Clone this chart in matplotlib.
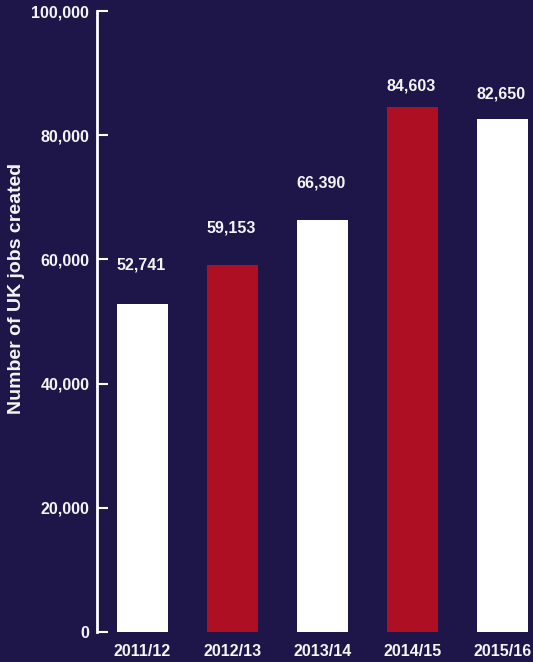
import matplotlib
matplotlib.use("Agg")
import matplotlib.pyplot as plt

categories = ["2011/12", "2012/13", "2013/14", "2014/15", "2015/16"]
jobs = [52741, 59153, 66390, 84603, 82650]
value_labels = ["52,741", "59,153", "66,390", "84,603", "82,650"]
ytick_values = [0, 20000, 40000, 60000, 80000, 100000]
ytick_labels = ["0", "20,000", "40,000", "60,000", "80,000", "100,000"]

BG = "#1e1548"
RED = "#ae0f23"
WHITE = "#ffffff"
TXT = "#f4f4f4"
bar_colors = [WHITE, RED, WHITE, RED, WHITE]
label_offsets_px = [39, 37, 37, 21, 25]

plt.rcParams['font.family'] = ['Liberation Sans', 'DejaVu Sans']
plt.rcParams['font.weight'] = 'bold'

fig = plt.figure(figsize=(5.33, 6.62), dpi=100, facecolor=BG)
W, H = 533, 662
ax = fig.add_axes([97 / W, (H - 632) / H, (W - 97) / W, 621 / H])
ax.set_facecolor(BG)

x = list(range(len(categories)))
ax.bar(x, jobs, width=51 / 90, color=bar_colors, linewidth=0, zorder=2)

ax.set_xlim(-0.506, 4.34)
ax.set_ylim(0, 100000)

for s in ["top", "right", "bottom"]:
    ax.spines[s].set_visible(False)
ax.spines["left"].set_color(WHITE)
ax.spines["left"].set_linewidth(2)

ax.set_yticks(ytick_values)
ax.set_yticklabels(ytick_labels)
ax.tick_params(axis="y", direction="in", length=8, width=1.5, color=WHITE,
               pad=5.5, labelcolor=TXT, labelsize=11.5)
ax.set_xticks(x)
ax.set_xticklabels(categories)
ax.tick_params(axis="x", length=0, pad=8.5, labelcolor=TXT, labelsize=11.5)
for lab in ax.get_xticklabels() + ax.get_yticklabels():
    lab.set_fontweight("bold")

for xi, v, lab, off in zip(x, jobs, value_labels, label_offsets_px):
    ax.annotate(lab, (xi, v), xytext=(-1, off * 0.72), textcoords="offset points",
                ha="center", va="center", color=TXT, fontsize=11.5, fontweight="bold")

fig.text(17 / W, 1 - 288 / H, "Number of UK jobs created", rotation=90,
         ha="center", va="center", color=TXT, fontsize=14, fontweight="bold")

fig.savefig("out.png", dpi=100, facecolor=BG)
